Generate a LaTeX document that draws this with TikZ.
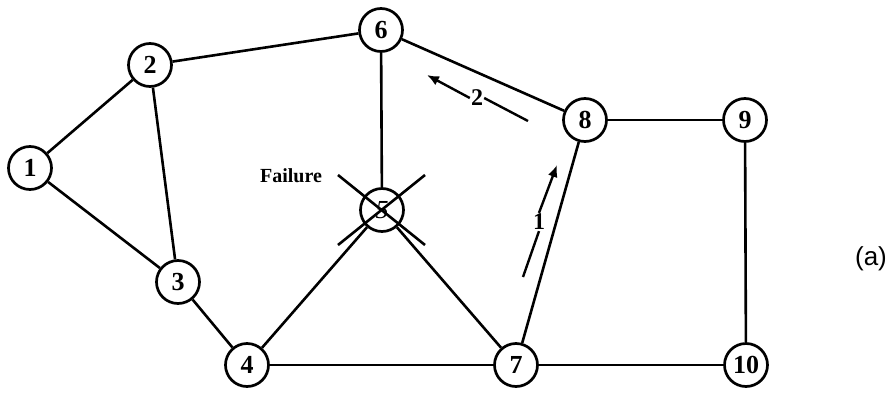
\documentclass[tikz,border=0pt]{standalone}
\usepackage{fontspec}
\setmainfont{Liberation Serif}
\setsansfont{Liberation Sans}
\usetikzlibrary{arrows.meta}
\begin{document}
\begin{tikzpicture}[x=1pt,y=-1pt,
  vtx/.style={circle,draw,line width=2.7pt,minimum size=43pt,inner sep=0pt,font=\fontsize{26}{26}\selectfont\bfseries},
  edge/.style={line width=2.6pt},
  flow/.style={line width=2.4pt},
  lbl/.style={font=\fontsize{24}{24}\selectfont\bfseries}]
\useasboundingbox (0,0) rectangle (892,394);
\node[vtx] (n1) at (30,168) {1};
\node[vtx] (n2) at (150,65) {2};
\node[vtx] (n3) at (178,282) {3};
\node[vtx] (n4) at (247,365) {4};
\node[vtx] (n5) at (382,210) {\mdseries\itshape 5};
\node[vtx] (n6) at (381,30) {6};
\node[vtx] (n7) at (516,365) {7};
\node[vtx] (n8) at (585,120) {8};
\node[vtx] (n9) at (745,120) {9};
\node[vtx] (n10) at (746,365) {10};
\draw[edge] (n1) -- (n2);
\draw[edge] (n1) -- (n3);
\draw[edge] (n2) -- (n3);
\draw[edge] (n2) -- (n6);
\draw[edge] (n3) -- (n4);
\draw[edge] (n4) -- (n5);
\draw[edge] (n4) -- (n7);
\draw[edge] (n5) -- (n6);
\draw[edge] (n5) -- (n7);
\draw[edge] (n6) -- (n8);
\draw[edge] (n7) -- (n8);
\draw[edge] (n7) -- (n10);
\draw[edge] (n8) -- (n9);
\draw[edge] (n9) -- (n10);
% failure cross
\coordinate (c1a) at (338,175);
\coordinate (c1b) at (425,245);
\coordinate (c2a) at (425,175);
\coordinate (c2b) at (338,245);
\draw[edge] (c1a) -- (c1b);
\draw[edge] (c2a) -- (c2b);
\node[font=\fontsize{20}{20}\selectfont\bfseries] (fail) at (291,176) {Failure};
% flow 1
\coordinate (f1s) at (523,277);
\coordinate (f1e) at (557,165);
\node[lbl,inner sep=1pt] (l1) at (539,222) {1};
\draw[flow] (f1s) -- (l1.south);
\draw[flow,-{Latex[length=12pt,width=10pt]}] (l1.north) -- (f1e);
% flow 2
\coordinate (f2s) at (528,121);
\coordinate (f2e) at (427,75);
\node[lbl,inner sep=1pt] (l2) at (477,98) {2};
\draw[flow] (f2s) -- (l2.east);
\draw[flow,-{Latex[length=12pt,width=10pt]}] (l2.west) -- (f2e);
\node[font=\fontsize{26}{26}\selectfont\sffamily] (a) at (871,259) {(a)};
\end{tikzpicture}
\end{document}
